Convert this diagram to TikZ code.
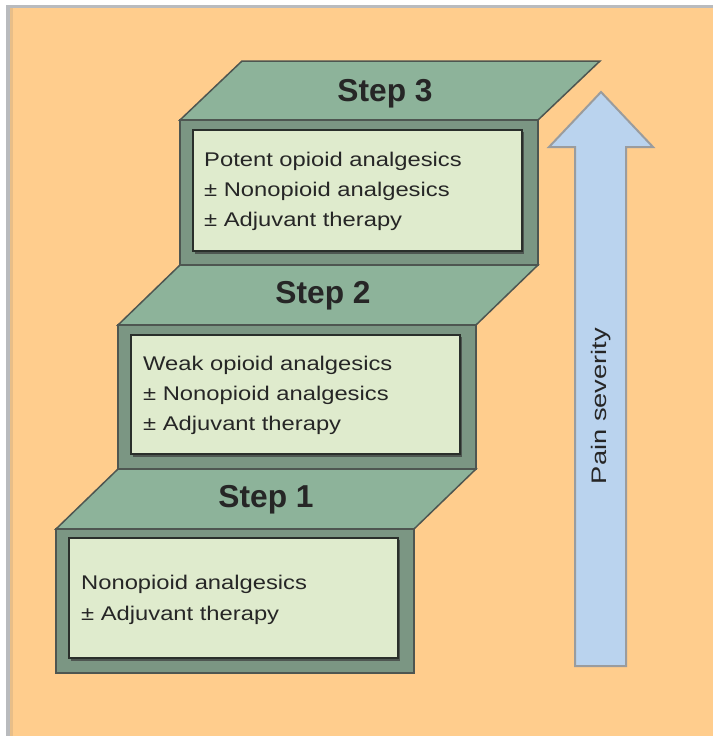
\documentclass[tikz,border=0pt]{standalone}
\usepackage{fontspec}
\setmainfont{Liberation Sans}
\newfontfamily\bodyfont[FakeStretch=1.2]{Liberation Sans}
\newfontfamily\sidefont[FakeStretch=1.3]{Liberation Sans}

\definecolor{bgorange}{HTML}{FFCD8D}
\definecolor{bgtan}{HTML}{E8BE88}
\definecolor{framegray}{HTML}{B9BBBE}
\definecolor{topgreen}{HTML}{8DB39A}
\definecolor{facegreen}{HTML}{7B9683}
\definecolor{edgegray}{HTML}{4E5651}
\definecolor{panelfill}{HTML}{DFEBCD}
\definecolor{paneledge}{HTML}{2A2F2B}
\definecolor{arrowblue}{HTML}{BAD3EE}
\definecolor{arrowedge}{HTML}{9A9C9E}
\definecolor{textgray}{HTML}{262626}

\tikzset{
  topface/.style={fill=topgreen, draw=edgegray, line width=1.5pt},
  frontface/.style={fill=facegreen, draw=edgegray, line width=1.5pt},
  panel/.style={fill=panelfill, draw=paneledge, line width=2.5pt},
  panelshadow/.style={fill=edgegray},
  steplabel/.style={font=\bfseries\fontsize{31.7}{36}\selectfont, text=textgray, inner sep=0pt, anchor=base},
  druglabel/.style={font=\bodyfont\fontsize{19.8}{24}\selectfont, text=textgray, inner sep=0pt, anchor=base west},
}

\begin{document}
\begin{tikzpicture}[x=1pt, y=-1pt]
% background
  \useasboundingbox (0,0) rectangle (713,736);
  \fill[white] (0,0) rectangle (713,736);
  \fill[framegray] (6,5) rectangle (713,736);
  \fill[bgtan] (10,8) rectangle (713,736);
  \fill[bgorange] (13,8) rectangle (713,736);

  % step 3
  \draw[topface] (180,120) -- (242,61) -- (600,61) -- (538,120) -- cycle;
  \draw[frontface] (180,120) rectangle (538,265);
  \fill[panelshadow] (195,132) rectangle (524,254);
  \draw[panel] (193,130) rectangle (522,251);
  \node[steplabel] (step3) at (385,101) {Step 3};
  \node[druglabel] (step3 a) at (204,166) {Potent opioid analgesics};
  \node[druglabel] (step3 b) at (204,196) {± Nonopioid analgesics};
  \node[druglabel] (step3 c) at (204,226) {± Adjuvant therapy};

  % step 2
  \draw[topface] (118,325) -- (180,265) -- (538,265) -- (476,325) -- cycle;
  \draw[frontface] (118,325) rectangle (476,469);
  \fill[panelshadow] (133,337) rectangle (462,457);
  \draw[panel] (131,335) rectangle (460,454);
  \node[steplabel] (step2) at (323,303) {Step 2};
  \node[druglabel] (step2 a) at (143,370) {Weak opioid analgesics};
  \node[druglabel] (step2 b) at (143,400) {± Nonopioid analgesics};
  \node[druglabel] (step2 c) at (143,430) {± Adjuvant therapy};

  % step 1
  \draw[topface] (56,529) -- (118,469) -- (476,469) -- (414,529) -- cycle;
  \draw[frontface] (56,529) rectangle (414,673);
  \fill[panelshadow] (71,540) rectangle (400,661);
  \draw[panel] (69,538) rectangle (398,658);
  \node[steplabel] (step1) at (266,507) {Step 1};
  \node[druglabel] (step1 a) at (81,589) {Nonopioid analgesics};
  \node[druglabel] (step1 b) at (81,620) {± Adjuvant therapy};

  % severity arrow
  \draw[fill=arrowblue, draw=arrowedge, line width=2pt]
    (575,666) -- (575,147) -- (549,147) -- (601,92) -- (653,147)
    -- (626,147) -- (626,666) -- cycle;
  \node[rotate=90, inner sep=0pt, text=textgray, font=\sidefont\fontsize{21}{24}\selectfont] (severity) at (601,406) {Pain severity};

\end{tikzpicture}
\end{document}
